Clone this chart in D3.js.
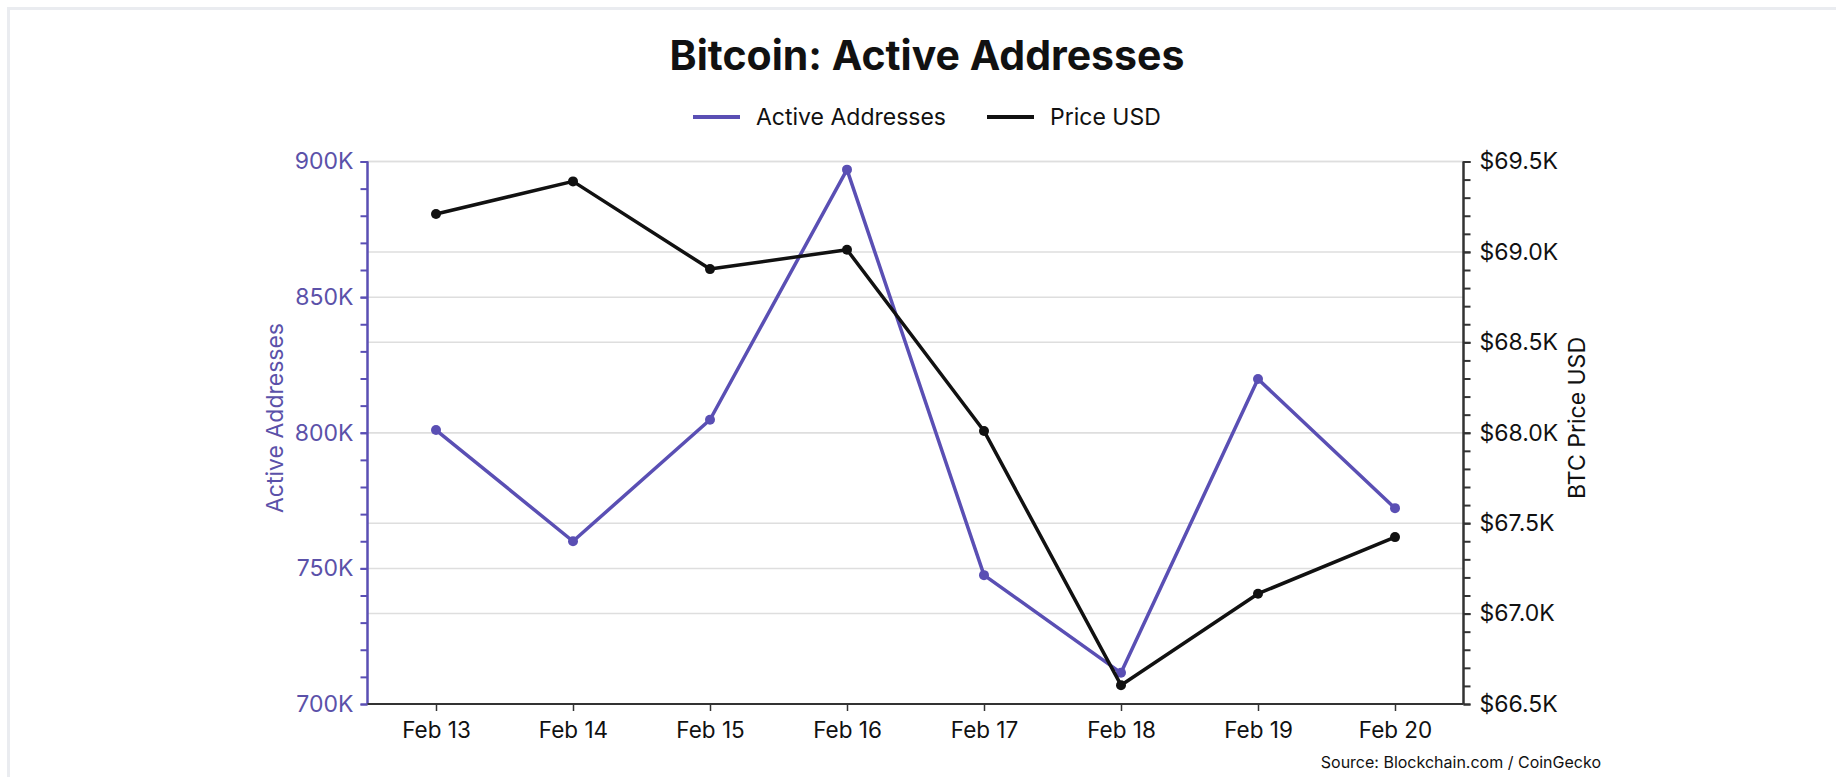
<!DOCTYPE html>
<html>
<head>
<meta charset="utf-8">
<script src="https://cdn.jsdelivr.net/npm/d3@7"></script>
<style>
  body { margin: 0; background: #fff; }
  svg { display: block; font-family: Inter, "Noto Sans", sans-serif; }
</style>
</head>
<body>
<svg id="chart" width="1836" height="777"></svg>
<script>
// Daily Bitcoin on-chain activity vs. price, Feb 13 – Feb 20
const dates = ["Feb 13", "Feb 14", "Feb 15", "Feb 16", "Feb 17", "Feb 18", "Feb 19", "Feb 20"];
const activeAddresses = [801000, 760000, 804800, 897000, 747500, 711500, 819800, 772200];
const priceUsd = [69210, 69390, 68905, 69012, 68010, 66604, 67110, 67423];

const addrTicks = [700000, 750000, 800000, 850000, 900000];
const priceTicks = [66500, 67000, 67500, 68000, 68500, 69000, 69500];
const seriesNames = ["Active Addresses", "Price USD"];

const PURPLE = "#5a4fb4";
const PURPLE_TEXT = "#5b51a9";
const INK = "#111111";
const AXIS_DARK = "#333333";

const svg = d3.select("#chart");
const W = 1836, H = 777;
const plot = { left: 367.5, right: 1463.5, top: 161.5, bottom: 704 };
const centerX = 927;

// page card frame
svg.append("rect")
  .attr("x", 8.5).attr("y", 8.5)
  .attr("width", W + 20).attr("height", H + 20)
  .attr("fill", "#fff")
  .attr("stroke", "#eaecf0").attr("stroke-width", 3);

// scales
const x = d3.scalePoint().domain(dates).range([plot.left, plot.right]).padding(0.5);
const yAddr = d3.scaleLinear().domain([700000, 900000]).range([plot.bottom, plot.top]);
const yPrice = d3.scaleLinear().domain([66500, 69500]).range([plot.bottom, plot.top]);

// gridlines from both value axes
const grid = svg.append("g").attr("class", "grid");
const gridYs = [...addrTicks.map(yAddr), ...priceTicks.map(yPrice)];
grid.selectAll("line").data(gridYs).join("line")
  .attr("x1", plot.left).attr("x2", plot.right)
  .attr("y1", d => d).attr("y2", d => d)
  .attr("stroke", "#dedede").attr("stroke-width", 1.5);

// title
svg.append("text")
  .attr("x", centerX).attr("y", 70)
  .attr("text-anchor", "middle")
  .attr("font-size", 41).attr("font-weight", 700)
  .attr("fill", INK)
  .text("Bitcoin: Active Addresses");

// legend
const legendItems = [
  { name: seriesNames[0], color: PURPLE, x: 693 },
  { name: seriesNames[1], color: INK, x: 987 }
];
const legend = svg.append("g").attr("class", "legend");
legendItems.forEach(item => {
  legend.append("line")
    .attr("x1", item.x).attr("x2", item.x + 47)
    .attr("y1", 117).attr("y2", 117)
    .attr("stroke", item.color).attr("stroke-width", 4);
  legend.append("text")
    .attr("x", item.x + 63).attr("y", 117)
    .attr("dominant-baseline", "central")
    .attr("font-size", 23).attr("fill", INK)
    .text(item.name);
});

// left axis: active addresses
const addrMinor = d3.range(700000, 900001, 10000);
const leftMinor = svg.append("g")
  .attr("transform", `translate(${plot.left},0)`)
  .call(d3.axisLeft(yAddr).tickValues(addrMinor).tickSize(7).tickFormat(""));
const leftAxis = svg.append("g")
  .attr("transform", `translate(${plot.left},0)`)
  .call(d3.axisLeft(yAddr).tickValues(addrTicks).tickSize(7).tickPadding(7)
    .tickFormat(d => d3.format("d")(d / 1000) + "K"));
[leftMinor, leftAxis].forEach(g => {
  g.selectAll("path, line").attr("stroke", PURPLE).attr("stroke-width", 2);
  g.select(".domain").attr("d", `M0,${plot.top}V${plot.bottom}`);
});
leftAxis.selectAll("text").attr("fill", PURPLE_TEXT).attr("font-size", 23).attr("font-family", "Inter");

// right axis: price
const priceMinor = d3.range(66500, 69501, 100);
const rightMinor = svg.append("g")
  .attr("transform", `translate(${plot.right},0)`)
  .call(d3.axisRight(yPrice).tickValues(priceMinor).tickSize(7).tickFormat(""));
const rightAxis = svg.append("g")
  .attr("transform", `translate(${plot.right},0)`)
  .call(d3.axisRight(yPrice).tickValues(priceTicks).tickSize(7).tickPadding(9)
    .tickFormat(d => "$" + (d / 1000).toFixed(1) + "K"));
[rightMinor, rightAxis].forEach(g => {
  g.selectAll("path, line").attr("stroke", AXIS_DARK).attr("stroke-width", 2);
  g.select(".domain").attr("d", `M0,${plot.top}V${plot.bottom}`);
});
rightAxis.selectAll("text").attr("fill", INK).attr("font-size", 23).attr("font-family", "Inter");

// bottom axis: dates
const bottomAxis = svg.append("g")
  .attr("transform", `translate(0,${plot.bottom})`)
  .call(d3.axisBottom(x).tickSize(7).tickPadding(11));
bottomAxis.select(".domain").attr("d", `M${plot.left},0H${plot.right}`)
  .attr("stroke", AXIS_DARK).attr("stroke-width", 2);
bottomAxis.selectAll(".tick line").attr("stroke", AXIS_DARK).attr("stroke-width", 1.5);
bottomAxis.selectAll("text").attr("fill", INK).attr("font-size", 22.5).attr("font-family", "Inter");

// axis titles
svg.append("text")
  .attr("transform", `translate(275,418) rotate(-90)`)
  .attr("text-anchor", "middle").attr("dominant-baseline", "central")
  .attr("font-size", 23).attr("fill", PURPLE_TEXT)
  .text("Active Addresses");
svg.append("text")
  .attr("transform", `translate(1577,418) rotate(-90)`)
  .attr("text-anchor", "middle").attr("dominant-baseline", "central")
  .attr("font-size", 23).attr("fill", INK)
  .text("BTC Price USD");

// series lines and markers
const addrLine = d3.line().x((d, i) => x(dates[i])).y(d => yAddr(d));
const priceLine = d3.line().x((d, i) => x(dates[i])).y(d => yPrice(d));

svg.append("path").datum(activeAddresses)
  .attr("d", addrLine).attr("fill", "none")
  .attr("stroke", PURPLE).attr("stroke-width", 3.5)
  .attr("stroke-linejoin", "round");
svg.append("g").selectAll("circle").data(activeAddresses).join("circle")
  .attr("cx", (d, i) => x(dates[i])).attr("cy", d => yAddr(d))
  .attr("r", 5).attr("fill", PURPLE);

svg.append("path").datum(priceUsd)
  .attr("d", priceLine).attr("fill", "none")
  .attr("stroke", INK).attr("stroke-width", 3.5)
  .attr("stroke-linejoin", "round");
svg.append("g").selectAll("circle").data(priceUsd).join("circle")
  .attr("cx", (d, i) => x(dates[i])).attr("cy", d => yPrice(d))
  .attr("r", 5).attr("fill", INK);

// source note
svg.append("text")
  .attr("x", 1601).attr("y", 768)
  .attr("text-anchor", "end")
  .attr("font-size", 16).attr("fill", INK)
  .text("Source: Blockchain.com / CoinGecko");
</script>
</body>
</html>
